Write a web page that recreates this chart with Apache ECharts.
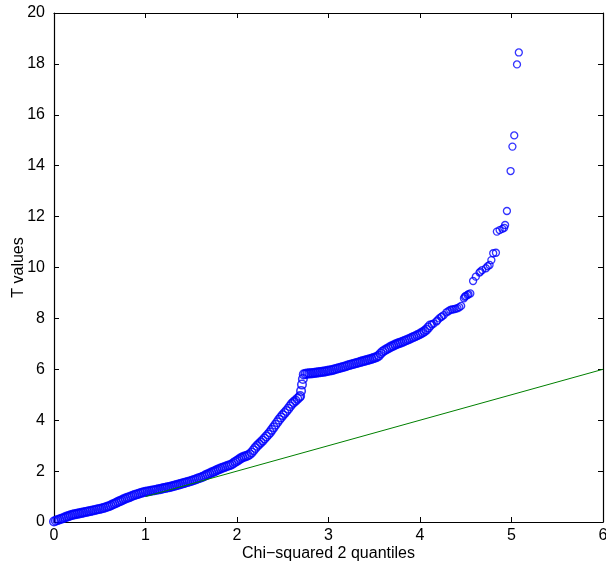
<!DOCTYPE html>
<html>
<head>
<meta charset="utf-8">
<script src="https://cdn.jsdelivr.net/npm/echarts@6/dist/echarts.min.js"></script>
<style>
  body { margin: 0; background: #fff; }
  #chart { width: 606px; height: 571px; }
</style>
</head>
<body>
<div id="chart"></div>
<script>
// quantile pairs (x = chi-squared quantile, y = T value), in stretches
let segAx = [0.00, 0.02, 0.04, 0.06, 0.08, 0.10, 0.12, 0.14, 0.16, 0.18, 0.20, 0.22, 0.24, 0.26, 0.28,
  0.30, 0.32, 0.34, 0.36, 0.38, 0.40, 0.42, 0.44, 0.46, 0.48, 0.50, 0.52, 0.54, 0.56, 0.58, 0.60,
  0.62, 0.64, 0.66, 0.68, 0.70, 0.72, 0.74, 0.76, 0.78, 0.80, 0.82, 0.84, 0.86, 0.88, 0.90, 0.92,
  0.94, 0.96, 0.98, 1.00];
let segAy = [0.02, 0.05, 0.08, 0.10, 0.13, 0.15, 0.18, 0.21, 0.23, 0.26, 0.28, 0.30, 0.31, 0.33, 0.34,
  0.36, 0.37, 0.39, 0.40, 0.42, 0.43, 0.45, 0.46, 0.48, 0.50, 0.51, 0.53, 0.55, 0.57, 0.60, 0.62,
  0.65, 0.69, 0.72, 0.75, 0.79, 0.82, 0.85, 0.89, 0.92, 0.95, 0.97, 1.00, 1.03, 1.06, 1.08, 1.10,
  1.13, 1.15, 1.17, 1.19];

let segBx = [1.02, 1.04, 1.06, 1.08, 1.10, 1.12, 1.14, 1.16, 1.18, 1.20, 1.22, 1.24, 1.26, 1.28, 1.30,
  1.32, 1.34, 1.36, 1.38, 1.40, 1.42, 1.44, 1.46, 1.48, 1.50, 1.52, 1.54, 1.56, 1.58, 1.60, 1.62,
  1.64, 1.66, 1.68, 1.70, 1.72, 1.74, 1.76, 1.78, 1.80, 1.82, 1.84, 1.86, 1.88, 1.90, 1.92, 1.94,
  1.96, 1.98, 2.00];
let segBy = [1.20, 1.21, 1.23, 1.24, 1.25, 1.27, 1.28, 1.29, 1.31, 1.33, 1.34, 1.36, 1.37, 1.39, 1.41,
  1.43, 1.45, 1.47, 1.49, 1.51, 1.53, 1.55, 1.57, 1.59, 1.61, 1.64, 1.66, 1.69, 1.72, 1.74, 1.77,
  1.80, 1.84, 1.87, 1.90, 1.94, 1.97, 2.00, 2.04, 2.07, 2.10, 2.13, 2.15, 2.18, 2.21, 2.23, 2.26,
  2.31, 2.36, 2.40];

let segCx = [2.02, 2.04, 2.06, 2.08, 2.10, 2.12, 2.14, 2.16, 2.18, 2.20, 2.22, 2.24, 2.26, 2.28, 2.30,
  2.32, 2.34, 2.36, 2.38, 2.40, 2.42, 2.44, 2.46, 2.48, 2.50, 2.52, 2.54, 2.56, 2.58, 2.60, 2.62,
  2.64, 2.66, 2.68, 2.69, 2.70, 2.71, 2.72];
let segCy = [2.45, 2.50, 2.54, 2.57, 2.59, 2.62, 2.66, 2.73, 2.82, 2.91, 2.99, 3.06, 3.13, 3.20, 3.28,
  3.36, 3.44, 3.52, 3.62, 3.72, 3.82, 3.92, 4.02, 4.11, 4.20, 4.28, 4.36, 4.45, 4.55, 4.64, 4.71,
  4.77, 4.84, 4.90, 4.95, 5.15, 5.40, 5.62];

let segDx = [2.73, 2.75, 2.77, 2.79, 2.81, 2.83, 2.85, 2.87, 2.89, 2.91, 2.93, 2.95, 2.97, 2.99, 3.01,
  3.03, 3.05, 3.07, 3.09, 3.11, 3.13, 3.15, 3.17, 3.19, 3.21, 3.23, 3.25, 3.27, 3.29, 3.31, 3.33,
  3.35, 3.37, 3.39, 3.41, 3.43, 3.45, 3.47, 3.49, 3.51, 3.53, 3.55, 3.57, 3.59, 3.61, 3.63, 3.65,
  3.67, 3.69, 3.71, 3.73, 3.75, 3.77, 3.79, 3.81, 3.83, 3.85, 3.87, 3.89, 3.91, 3.93, 3.95, 3.97,
  3.99, 4.01, 4.03, 4.05, 4.07, 4.09, 4.11];
let segDy = [5.80, 5.82, 5.83, 5.84, 5.84, 5.85, 5.86, 5.87, 5.88, 5.89, 5.90, 5.91, 5.92, 5.94, 5.95,
  5.96, 5.98, 6.00, 6.02, 6.04, 6.06, 6.08, 6.10, 6.12, 6.15, 6.17, 6.19, 6.21, 6.23, 6.25, 6.27,
  6.29, 6.31, 6.33, 6.35, 6.37, 6.39, 6.41, 6.44, 6.46, 6.49, 6.54, 6.62, 6.69, 6.74, 6.78, 6.82,
  6.86, 6.90, 6.93, 6.97, 7.00, 7.03, 7.05, 7.08, 7.11, 7.14, 7.17, 7.20, 7.24, 7.27, 7.30, 7.34,
  7.37, 7.41, 7.45, 7.50, 7.56, 7.64, 7.72];

// sparser upper tail
let segEx = [4.13, 4.15, 4.18, 4.19, 4.21, 4.23, 4.24, 4.26, 4.29, 4.31, 4.33, 4.35, 4.37, 4.39, 4.41,
  4.43, 4.45, 4.48, 4.49, 4.50, 4.52, 4.53, 4.55, 4.58, 4.61, 4.65, 4.66, 4.68, 4.72, 4.74, 4.76,
  4.78, 4.80, 4.83, 4.84, 4.87, 4.90, 4.92, 4.93, 4.95, 4.99, 5.01, 5.03, 5.06, 5.08];
let segEy = [7.77, 7.80, 7.88, 7.92, 8.00, 8.05, 8.08, 8.13, 8.24, 8.28, 8.33, 8.35, 8.36, 8.38, 8.40,
  8.44, 8.49, 8.79, 8.85, 8.88, 8.92, 8.95, 8.98, 9.47, 9.64, 9.80, 9.84, 9.90, 9.97, 10.05, 10.10,
  10.29, 10.56, 10.58, 11.41, 11.47, 11.52, 11.56, 11.67, 12.22, 13.79, 14.75, 15.19, 17.98, 18.45];

// reference line
let refX = [1, 6];
let refY = [1, 6];

function pairs(xs, ys) {
    return xs.map(function (v, i) { return [v, ys[i]]; });
}
let dense = pairs(segAx.concat(segBx, segCx, segDx), segAy.concat(segBy, segCy, segDy));
let tail = pairs(segEx, segEy);
let line = pairs(refX, refY);

let fontName = '"Liberation Sans", Arial, sans-serif';
let labelStyle = { color: '#000', fontSize: 16, fontFamily: fontName };
let boxLine = { show: true, onZero: false, lineStyle: { color: '#000', width: 1.2 } };
let tickIn = { show: true, inside: true, length: 5, lineStyle: { color: '#000', width: 1 } };

let chart = echarts.init(document.getElementById('chart'));
chart.setOption({
    animation: false,
    backgroundColor: '#fff',
    grid: { left: 54, right: 3, top: 13, bottom: 49, outerBoundsMode: 'none', containLabel: false },
    xAxis: [{
        type: 'value', min: 0, max: 6, interval: 1,
        position: 'bottom',
        axisLine: boxLine, axisTick: tickIn,
        axisLabel: Object.assign({ margin: 6 }, labelStyle),
        splitLine: { show: false },
        name: 'Chi\u2212squared 2 quantiles',
        nameLocation: 'middle', nameGap: 24, nameMoveOverlap: false,
        nameTextStyle: labelStyle
    }, {
        type: 'value', min: 0, max: 6, interval: 1,
        position: 'top',
        axisLine: boxLine, axisTick: tickIn,
        axisLabel: { show: false }, splitLine: { show: false }
    }],
    yAxis: [{
        type: 'value', min: 0, max: 20, interval: 2,
        position: 'left',
        axisLine: boxLine, axisTick: tickIn,
        axisLabel: Object.assign({ margin: 9 }, labelStyle),
        splitLine: { show: false },
        name: 'T values',
        nameLocation: 'middle', nameGap: 27, nameMoveOverlap: false,
        nameTextStyle: labelStyle
    }, {
        type: 'value', min: 0, max: 20, interval: 2,
        position: 'right',
        axisLine: boxLine, axisTick: tickIn,
        axisLabel: { show: false }, splitLine: { show: false }
    }],
    series: [{
        type: 'scatter',
        data: dense,
        symbol: 'circle',
        symbolSize: 8.5,
        itemStyle: { color: 'rgba(0,0,0,0)', borderColor: '#0000ff', borderWidth: 1.6 },
        z: 2
    }, {
        type: 'scatter',
        data: tail,
        symbol: 'circle',
        symbolSize: 7,
        itemStyle: { color: 'rgba(0,0,0,0)', borderColor: '#0000ff', borderWidth: 1.3 },
        z: 2
    }, {
        type: 'line',
        data: line,
        symbol: 'none',
        lineStyle: { color: '#008000', width: 1 },
        z: 3
    }]
});
</script>
</body>
</html>
